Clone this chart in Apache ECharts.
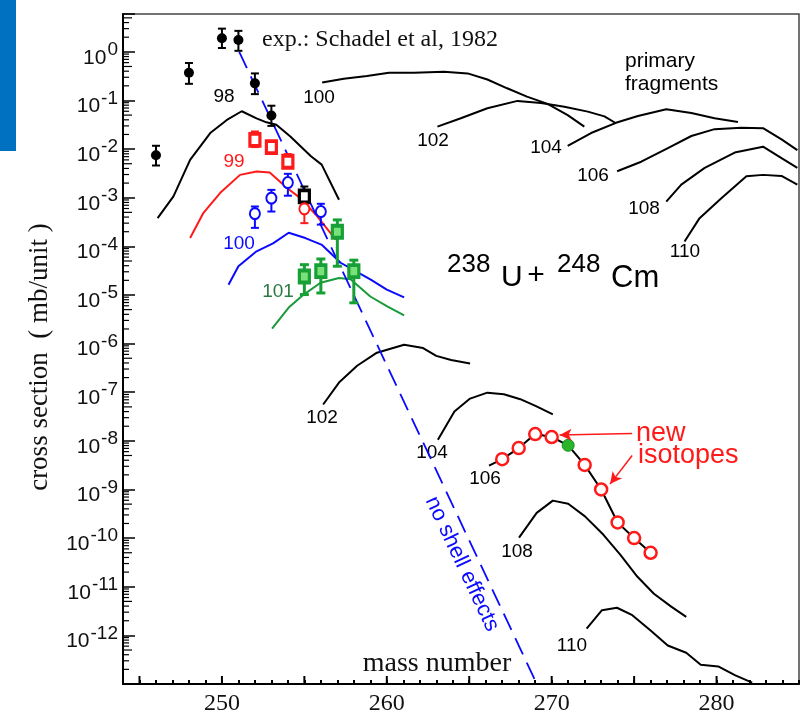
<!DOCTYPE html>
<html>
<head>
<meta charset="utf-8">
<script src="https://cdn.jsdelivr.net/npm/echarts@6/dist/echarts.min.js"></script>
<style>
  html, body { margin: 0; padding: 0; background: #fff; }
  #chart { width: 808px; height: 714px; }
</style>
</head>
<body>
<div id="chart"></div>
<script>
// Axis tick labels
const massLabels = [250, 260, 270, 280];
const decadeExponents = [0, -1, -2, -3, -4, -5, -6, -7, -8, -9, -10, -11, -12];

// Measured cross sections (Schadel et al, 1982): [mass, value, upper, lower] in mb/unit
const expCf = [[246, 7.5e-3, 1.17e-2, 4.6e-3], [248, 0.37, 0.59, 0.22], [250, 1.9, 3.0, 1.2],
               [251, 1.75, 2.7, 1.05], [252, 0.225, 0.36, 0.135], [253, 0.049, 0.078, 0.030]];
const expCfOpen = [[255, 1.07e-3, 1.7e-3, 8.3e-4]];
const expEs = [[252, 1.55e-2, 2.3e-2, 1.1e-2], [253, 1.1e-2, 1.45e-2, 8.0e-3], [254, 5.5e-3, 7.9e-3, 4.4e-3]];
const expEsOpen = [[255, 5.9e-4, 8.0e-4, 3.0e-4]];
const expFm = [[252, 4.7e-4, 6.6e-4, 2.4e-4], [253, 9.8e-4, 1.45e-3, 5.2e-4],
               [254, 2.05e-3, 3.1e-3, 1.1e-3], [256, 5.2e-4, 7.5e-4, 2.8e-4]];
const expMd = [[255, 2.4e-5, 4.2e-5, 1.02e-5], [256, 3.1e-5, 5.5e-5, 1.1e-5],
               [257, 2.0e-4, 3.5e-4, 3.9e-5], [258, 3.1e-5, 5.2e-5, 6.9e-6]];

// Calculated yields of surviving nuclei, Z = 98 ... 110
const calcZ98 = [[246.1, 3.8e-4], [247.06, 1.07e-3], [248.07, 6.0e-3], [249.29, 2.14e-2], [250.3, 3.98e-2],
                 [251.2, 6.0e-2], [252.1, 4.27e-2], [252.7, 3.55e-2], [253.3, 3.16e-2], [254.15, 1.82e-2],
                 [255.4, 7.1e-3], [256.05, 4.8e-3], [257.1, 9.1e-4]];
const calcZ99 = [[248.07, 1.48e-4], [248.88, 4.9e-4], [249.9, 1.26e-3], [251.1, 2.95e-3], [252.1, 3.47e-3],
                 [252.9, 3.3e-3], [253.95, 1.58e-3], [254.76, 9.8e-4], [255.77, 4.2e-4], [256.9, 1.38e-4]];
const calcZ100 = [[250.4, 1.62e-5], [251.0, 3.9e-5], [252.1, 7.9e-5], [253.1, 1.15e-4], [254.05, 1.9e-4],
                  [255.06, 1.48e-4], [256.07, 1.07e-4], [257.2, 4.6e-5], [258.1, 3.1e-5], [259.0, 2.1e-5],
                  [260.0, 1.29e-5], [261.05, 8.9e-6]];
const calcZ101 = [[253.04, 2.04e-6], [254.05, 5.5e-6], [254.96, 1.02e-5], [255.98, 1.78e-5], [257.1, 2.24e-5],
                  [257.8, 2.1e-5], [259.0, 9.3e-6], [260.0, 5.9e-6], [261.05, 3.8e-6]];
const calcZ102 = [[256.14, 5.6e-8], [257.1, 1.58e-7], [258.2, 3.5e-7], [259.4, 6.5e-7], [261.05, 9.5e-7],
                  [262.2, 8.1e-7], [263.0, 5.6e-7], [263.9, 4.6e-7], [265.05, 3.9e-7]];
const calcZ104 = [[263.1, 1.05e-8], [264.1, 4.0e-8], [265.05, 7.4e-8], [266.1, 9.8e-8], [267.1, 9.1e-8],
                  [268.1, 7.2e-8], [269.05, 5.2e-8], [270.07, 3.5e-8]];
const calcZ106 = [[266.2, 3.1e-9], [267, 4.2e-9], [268, 7.1e-9], [269, 1.38e-8], [270, 1.2e-8], [271, 8.1e-9],
                  [272, 3.2e-9], [273, 1.0e-9], [274, 2.1e-10], [275, 1.0e-10], [276, 5.0e-11]];
const calcZ108 = [[268.02, 1.02e-10], [269.09, 3.3e-10], [270.07, 5.9e-10], [271.0, 5.1e-10], [272.02, 2.8e-10],
                  [273.14, 1.17e-10], [274.17, 4.5e-11], [275.19, 1.62e-11], [276.2, 7.2e-12],
                  [277.25, 3.9e-12], [278.16, 2.4e-12]];
const calcZ110 = [[272.12, 1.38e-12], [273.05, 3.3e-12], [273.96, 3.7e-12], [274.89, 2.6e-12], [276.0, 1.26e-12],
                  [277.04, 6.2e-13], [278.16, 4.4e-13], [279.04, 2.5e-13], [280.1, 2.3e-13], [281.14, 1.5e-13],
                  [282.16, 1.07e-13]];

// Seaborg isotopes: new ones (open) and the known one (filled)
const sgNew = [[267, 4.2e-9], [268, 7.1e-9], [269, 1.38e-8], [270, 1.2e-8], [272, 3.2e-9],
               [273, 1.0e-9], [274, 2.1e-10], [275, 1.0e-10], [276, 5.0e-11]];
const sgKnown = [[271, 8.1e-9]];

// Primary (pre-evaporation) fragment distributions
const primZ100 = [[256.08, 0.234], [257.39, 0.28], [258.8, 0.32], [260.13, 0.37], [261.65, 0.37], [263.47, 0.39],
                  [264.9, 0.36], [266.1, 0.27], [267.3, 0.178], [268.5, 0.12], [269.75, 0.085], [270.97, 0.050],
                  [271.98, 0.029]];
const primZ102 = [[263.07, 0.029], [264.49, 0.043], [266.1, 0.069], [267.93, 0.098], [269.35, 0.089],
                  [270.77, 0.074], [272.19, 0.059], [273.2, 0.047], [273.9, 0.034]];
const primZ104 = [[270.97, 0.0117], [272.39, 0.0214], [273.9, 0.0347], [275.23, 0.048], [276.95, 0.066],
                  [278.47, 0.055], [279.88, 0.043], [281.3, 0.036]];
const primZ106 = [[273.97, 3.5e-3], [275.43, 5.5e-3], [277.05, 0.0105], [278.47, 0.0186], [279.88, 0.0257],
                  [281.5, 0.0275], [282.82, 0.0269], [283.94, 0.0158], [284.9, 9.5e-3]];
const primZ108 = [[276.95, 8.3e-4], [277.86, 1.86e-3], [279.28, 4.1e-3], [281.1, 8.5e-3], [282.82, 0.0112],
                  [283.94, 6.5e-3], [284.9, 4.1e-3]];
const primZ110 = [[278.06, 1.26e-4], [278.97, 3.8e-4], [280.29, 9.8e-4], [281.81, 2.75e-3], [282.82, 2.95e-3],
                  [283.94, 2.8e-3], [284.9, 1.86e-3]];

// Trend without shell effects
const noShell = [[251.05, 1.0], [269.1, 1e-13]];

// "new isotopes" pointers: [tail, head]
const arrowNew1 = [[274.88, 1.41e-8], [270.48, 1.32e-8]];
const arrowNew2 = [[274.88, 5.0e-9], [273.54, 1.29e-9]];

const X_MIN = 244, X_MAX = 285, Y_MIN = 1e-13, Y_MAX = 6;

// Tick positions drawn on top of the axes
const xMidTicks = [];
for (let m = 245; m < X_MAX; m += 5) xMidTicks.push([m]);
const yMinorTicks = [];
for (let e = -13; e <= 0; e++) {
  for (let k = 2; k <= 9; k++) {
    const v = k * Math.pow(10, e);
    if (v < Y_MAX) yMinorTicks.push([v]);
  }
}

const RED = '#ff1a1a', BLUE = '#0a0aff', GREEN = '#1a9a3a', GREEN_M = '#17a035';
const SANS = 'Liberation Sans', SERIF = 'Liberation Serif';
const BASE_FONT = '21px "Liberation Sans"', EXP_FONT = '19px "Liberation Sans"';

function curve(name, data, color, width) {
  return {
    name, type: 'line', data, showSymbol: false, symbol: 'none', z: 2,
    lineStyle: { color, width: width || 2, opacity: 1 }, silent: true
  };
}

function errorBars(name, data, color, width, cap) {
  return {
    name, type: 'custom', z: 3, silent: true,
    data, encode: { x: 0, y: 1 },
    renderItem(params, api) {
      const x = api.value(0);
      const hi = api.coord([x, api.value(2)]);
      const lo = api.coord([x, api.value(3)]);
      const style = { stroke: color, lineWidth: width };
      return {
        type: 'group', children: [
          { type: 'line', shape: { x1: hi[0], y1: hi[1], x2: lo[0], y2: lo[1] }, style },
          { type: 'line', shape: { x1: hi[0] - cap / 2, y1: hi[1], x2: hi[0] + cap / 2, y2: hi[1] }, style },
          { type: 'line', shape: { x1: lo[0] - cap / 2, y1: lo[1], x2: lo[0] + cap / 2, y2: lo[1] }, style }
        ]
      };
    }
  };
}

function points(name, data, symbol, size, itemStyle) {
  return {
    name, type: 'scatter', z: 4, silent: true,
    data: data.map(d => [d[0], d[1]]),
    symbol, symbolSize: size, itemStyle: Object.assign({ opacity: 1 }, itemStyle)
  };
}

function label(x, y, text, font, fill, align) {
  return { type: 'text', x, y, style: { text, font, fill: fill || '#000', align: align || 'center', verticalAlign: 'middle' } };
}

const chart = echarts.init(document.getElementById('chart'), null, { renderer: 'canvas' });

const annotations = [
  { type: 'rect', shape: { x: 0, y: 0, width: 16, height: 151 }, style: { fill: '#0070c0' }, z: 10 },

  label(262, 40, 'exp.: Schadel et al, 1982', '24px "Liberation Serif"', '#111', 'left'),
  label(437, 664, 'mass number', '28px "Liberation Serif"', '#111'),
  Object.assign(label(40, 357, 'cross section \u00a0( mb/unit )', '27px "Liberation Serif"', '#111'), { rotation: Math.PI / 2 }),

  label(625, 61, 'primary', '21px "Liberation Sans"', '#000', 'left'),
  label(625, 84, 'fragments', '21px "Liberation Sans"', '#000', 'left'),

  label(224, 97, '98', '19px "Liberation Sans"'),
  label(234, 162, '99', '19px "Liberation Sans"', RED),
  label(239, 244, '100', '19px "Liberation Sans"', BLUE),
  label(278, 292, '101', '19px "Liberation Sans"', '#2a7a44'),
  label(322, 418, '102', '19px "Liberation Sans"'),
  label(432, 453, '104', '19px "Liberation Sans"'),
  label(485, 479, '106', '19px "Liberation Sans"'),
  label(517, 552, '108', '19px "Liberation Sans"'),
  label(572, 646, '110', '19px "Liberation Sans"'),

  label(319, 98, '100', '19px "Liberation Sans"'),
  label(433, 141, '102', '19px "Liberation Sans"'),
  label(546, 148, '104', '19px "Liberation Sans"'),
  label(593, 176, '106', '19px "Liberation Sans"'),
  label(644, 209, '108', '19px "Liberation Sans"'),
  label(685, 252, '110', '19px "Liberation Sans"'),

  label(447, 265, '238', '26px "Liberation Sans"', '#000', 'left'),
  label(501, 278, 'U', '30px "Liberation Sans"', '#000', 'left'),
  label(536, 276, '+', '30px "Liberation Sans"'),
  label(557, 265, '248', '26px "Liberation Sans"', '#000', 'left'),
  label(611, 278, 'Cm', '31px "Liberation Sans"', '#000', 'left'),

  label(636, 434, 'new', '27px "Liberation Sans"', RED, 'left'),
  label(638, 456, 'isotopes', '27px "Liberation Sans"', RED, 'left'),

  Object.assign(label(462, 564, 'no shell effects', '22px "Liberation Sans"', BLUE), { rotation: -64.8 * Math.PI / 180 })
];

const option = {
  animation: false,
  backgroundColor: '#fff',
  grid: {
    left: 123, right: 9, top: 14, bottom: 30,
    containLabel: false, outerBoundsMode: 'none',
    show: true, borderColor: '#444', borderWidth: 1.5, backgroundColor: 'transparent'
  },
  xAxis: {
    type: 'value', min: X_MIN, max: X_MAX, interval: 1,
    axisLine: { onZero: false, lineStyle: { color: '#000', width: 2 } },
    axisTick: { inside: true, length: 4, lineStyle: { color: '#000', width: 2 } },
    splitLine: { show: false },
    axisLabel: {
      margin: 8, fontFamily: SERIF, fontSize: 24, color: '#111',
      formatter: v => (massLabels.indexOf(v) >= 0 ? String(v) : '')
    }
  },
  yAxis: {
    type: 'log', logBase: 10, min: Y_MIN, max: Y_MAX, interval: 1,
    axisLine: { lineStyle: { color: '#000', width: 2 } },
    axisTick: { inside: true, length: 12, lineStyle: { color: '#000', width: 1.5 } },
    splitLine: { show: false },
    minorTick: { show: false },
    axisLabel: { show: false }
  },
  series: [
    // extra axis ticks
    {
      name: 'x ticks', type: 'custom', silent: true, z: 5, data: xMidTicks,
      renderItem(params, api) {
        const p = api.coord([api.value(0), Y_MIN]);
        return { type: 'line', shape: { x1: p[0], y1: p[1], x2: p[0], y2: p[1] - 8 },
                 style: { stroke: '#000', lineWidth: 2 } };
      }
    },
    {
      name: 'y ticks', type: 'custom', silent: true, z: 5, data: yMinorTicks,
      renderItem(params, api) {
        const v = api.value(0);
        const k = Math.round(v / Math.pow(10, Math.floor(Math.log10(v) + 1e-9)));
        const p = api.coord([X_MIN, v]);
        const len = k === 5 ? 9 : 6;
        return { type: 'line', shape: { x1: p[0], y1: p[1], x2: p[0] + len, y2: p[1] },
                 style: { stroke: '#000', lineWidth: 1.2 } };
      }
    },

    // calculated curves
    curve('Z=98', calcZ98, '#000'),
    curve('Z=99', calcZ99, RED),
    curve('Z=100', calcZ100, BLUE),
    curve('Z=101', calcZ101, GREEN),
    curve('Z=102', calcZ102, '#000'),
    curve('Z=104', calcZ104, '#000'),
    curve('Z=106', calcZ106, '#000'),
    curve('Z=108', calcZ108, '#000'),
    curve('Z=110', calcZ110, '#000'),
    curve('primary Z=100', primZ100, '#000'),
    curve('primary Z=102', primZ102, '#000'),
    curve('primary Z=104', primZ104, '#000'),
    curve('primary Z=106', primZ106, '#000'),
    curve('primary Z=108', primZ108, '#000'),
    curve('primary Z=110', primZ110, '#000'),
    {
      name: 'no shell effects', type: 'line', data: noShell, showSymbol: false, symbol: 'none', z: 2, silent: true,
      lineStyle: { color: BLUE, width: 1.8, type: [18, 9] }
    },

    // measured points
    errorBars('Cf err', expCf, '#000', 2, 8),
    errorBars('Cf open err', expCfOpen, '#000', 2, 8),
    errorBars('Es err', expEs, RED, 2, 8),
    errorBars('Es open err', expEsOpen, RED, 2, 8),
    errorBars('Fm err', expFm, BLUE, 2, 8),
    errorBars('Md err', expMd, GREEN_M, 3, 9),
    points('Cf', expCf, 'circle', 10, { color: '#000' }),
    points('Cf open', expCfOpen, 'rect', [10, 12], { color: '#fff', borderColor: '#000', borderWidth: 3.5 }),
    points('Es', expEs, 'rect', [10, 12], { color: '#fff', borderColor: RED, borderWidth: 3.5 }),
    points('Es open', expEsOpen, 'circle', [10, 11], { color: '#fff', borderColor: RED, borderWidth: 2 }),
    points('Fm', expFm, 'circle', [10, 11], { color: '#fff', borderColor: BLUE, borderWidth: 2 }),
    points('Md', expMd, 'rect', [10, 12], { color: '#7ae07a', borderColor: GREEN_M, borderWidth: 3.5 }),

    // seaborg isotopes
    Object.assign(points('Sg new', sgNew, 'circle', 12, { color: '#fff', borderColor: RED, borderWidth: 2.5 }), {
      markLine: {
        silent: true, symbol: ['none', 'arrow'], symbolSize: [9, 12], animation: false,
        label: { show: false },
        lineStyle: { color: RED, width: 1.5, type: 'solid', opacity: 1 },
        data: [
          [{ coord: arrowNew1[0] }, { coord: arrowNew1[1] }],
          [{ coord: arrowNew2[0] }, { coord: arrowNew2[1] }]
        ]
      }
    }),
    points('Sg known', sgKnown, 'circle', 12, { color: '#2bb52b', borderColor: '#1a8f1a', borderWidth: 1 })
  ],
  graphic: annotations
};

chart.setOption(option);

// Decade labels 10^n: base and raised exponent, placed at the axis' own tick positions
const measure = document.createElement('canvas').getContext('2d');
measure.font = EXP_FONT;
const LABEL_RIGHT = 118;
const decadeLabels = [];
decadeExponents.forEach(e => {
  const y = chart.convertToPixel({ gridIndex: 0 }, [X_MIN, Math.pow(10, e)])[1];
  const expText = String(e);
  const w = measure.measureText(expText).width;
  decadeLabels.push(label(LABEL_RIGHT, y - 2, expText, EXP_FONT, '#111', 'right'));
  decadeLabels.push(label(LABEL_RIGHT - w - 1, y + 6, '10', BASE_FONT, '#111', 'right'));
});
chart.setOption({ graphic: annotations.concat(decadeLabels) });
</script>
</body>
</html>
